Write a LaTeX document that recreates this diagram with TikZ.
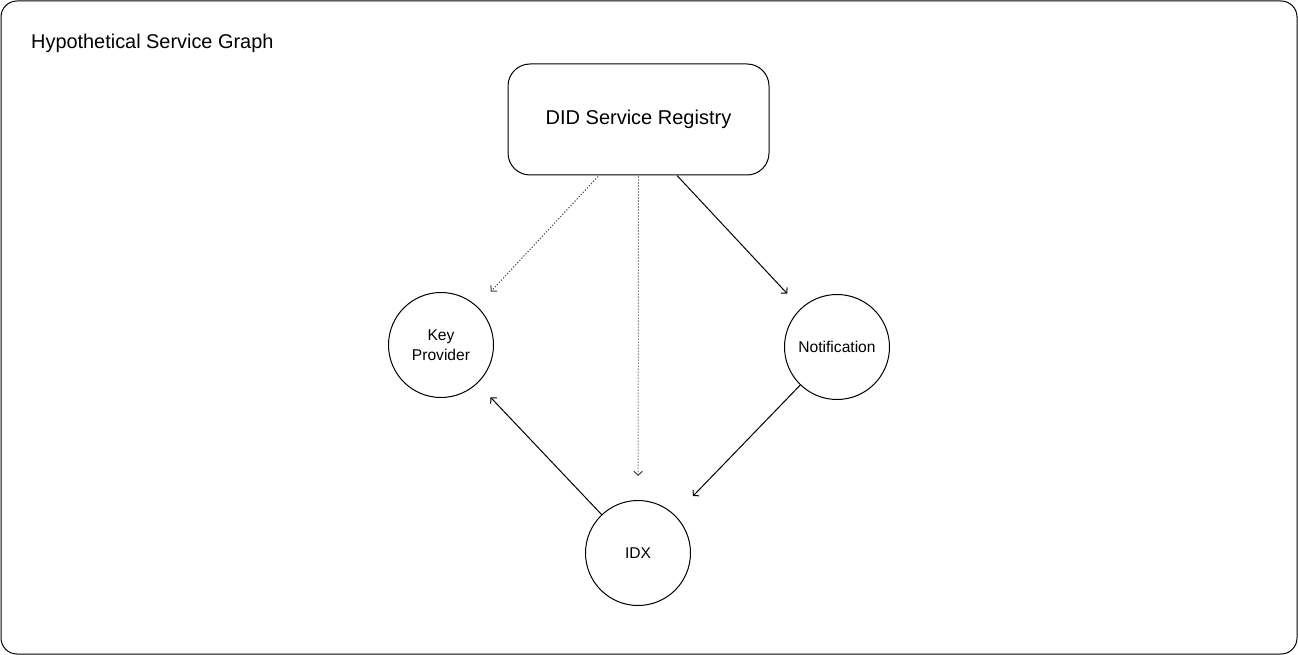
\documentclass[tikz,border=0pt]{standalone}
\usepackage{fontspec}
\setmainfont{Liberation Sans}
\usetikzlibrary{arrows.meta}
\begin{document}
\begin{tikzpicture}[x=1pt,y=-1pt,
  frame/.style={draw=black, line width=1pt, rounded corners=16pt},
  regbox/.style={draw=black, line width=1pt, rounded corners=22pt, minimum width=261pt, minimum height=111pt, inner sep=0pt, font=\fontsize{20}{24}\selectfont},
  svc/.style={draw=black, line width=1pt, circle, minimum size=105pt, inner sep=0pt, align=center, font=\fontsize{15.6}{19.5}\selectfont},
  arr/.style={draw=black, line width=1pt, -{Straight Barb[length=4pt,width=8.5pt]}},
  dotarr/.style={draw=black!75, line width=1pt, dash pattern=on 1.2pt off 1.8pt, -{Straight Barb[length=4pt,width=8.5pt]}}
]
\useasboundingbox (0,0) rectangle (1298,655);
\draw[frame] (1,1) rectangle (1297,654);
\node[anchor=base west, inner sep=0pt, font=\fontsize{19.9}{24}\selectfont] (title) at (31,49) {Hypothetical Service Graph};
\node[regbox] (reg) at (638.5,119.5) {DID Service Registry};
\node[svc] (kp) at (441,345) {Key\\Provider};
\node[svc] (nt) at (837,347) {Notification};
\node[svc] (idx) at (638,553) {IDX};
\draw[dotarr, shorten >=20pt] ([xshift=-40.5pt,yshift=-1pt]reg.south) -- (kp);
\draw[dotarr, shorten >=24pt] ([yshift=-1pt]reg.south) -- (idx);
\draw[arr, shorten >=20pt] ([xshift=38.5pt]reg.south) -- (nt);
\draw[arr, shorten >=19pt] (idx) -- (kp);
\draw[arr, shorten >=26pt] (nt) -- (idx);
\end{tikzpicture}
\end{document}
